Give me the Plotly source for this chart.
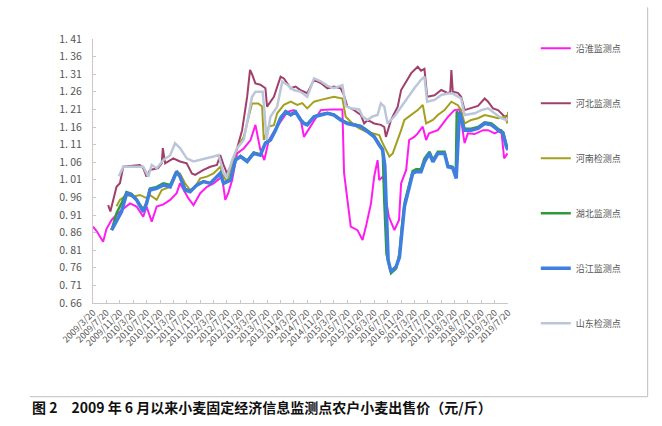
import plotly.graph_objects as go

# ---------------- data ----------------
yanhuai_dates = ["2009-03-20","2009-04-20","2009-06-20","2009-07-20","2009-09-05","2009-11-20","2010-02-20","2010-04-20",
    "2010-06-20","2010-07-20","2010-09-05","2010-10-20","2010-12-20","2011-02-20","2011-04-20","2011-05-20","2011-08-05",
    "2011-09-20","2011-11-20","2012-01-20","2012-03-20","2012-06-05","2012-07-05","2012-08-01","2012-09-05","2012-10-20",
    "2012-12-20","2013-02-20","2013-04-05","2013-05-20","2013-06-25","2013-08-05","2013-10-20","2014-01-20","2014-03-20",
    "2014-05-20","2014-06-20","2014-08-20","2014-11-20","2015-02-20","2015-06-05","2015-06-20","2015-08-20","2015-10-20",
    "2015-12-05","2016-01-05","2016-02-20","2016-03-20","2016-04-20","2016-05-05","2016-06-10","2016-07-05","2016-08-01",
    "2016-09-20","2016-11-01","2016-11-20","2017-01-05","2017-02-01","2017-03-20","2017-04-20","2017-06-05","2017-07-05",
    "2017-08-01","2017-10-20","2018-01-20","2018-03-20","2018-05-05","2018-06-20","2018-07-20","2018-09-20","2018-12-05",
    "2019-01-20","2019-03-20","2019-05-20","2019-06-15","2019-07-15"]
yanhuai = [0.877,0.865,0.834,0.870,0.896,0.920,0.943,0.934,
    0.905,0.934,0.891,0.934,0.940,0.953,0.972,1.000,0.957,
    0.938,0.972,0.990,1.000,1.019,0.953,0.972,1.009,1.085,
    1.099,1.123,1.166,1.095,1.066,1.123,1.161,1.203,1.208,
    1.185,1.132,1.161,1.208,1.210,1.210,1.030,0.877,0.867,
    0.839,0.877,0.943,1.019,1.066,1.009,1.020,0.953,0.905,
    0.867,0.896,1.000,1.038,1.123,1.132,1.142,1.161,1.123,
    1.142,1.151,1.189,1.208,1.210,1.114,1.142,1.140,1.151,
    1.151,1.142,1.151,1.071,1.085]

hebei_dates = ["2009-08-05","2009-08-25","2009-10-20","2009-11-20","2009-12-20","2010-03-01","2010-05-20","2010-06-20",
    "2010-07-20","2010-08-20","2010-11-01","2010-12-05","2010-12-15","2011-01-05","2011-03-20","2011-05-20","2011-07-20",
    "2011-09-05","2011-10-05","2011-12-20","2012-02-20","2012-04-20","2012-05-20","2012-06-20","2012-07-20","2012-09-05",
    "2012-10-20","2012-12-05","2013-01-20","2013-02-15","2013-03-05","2013-04-05","2013-05-20","2013-07-05","2013-07-20",
    "2013-09-20","2013-11-20","2013-12-20","2014-02-20","2014-04-05","2014-05-20","2014-07-20","2014-09-20","2014-11-20",
    "2015-01-20","2015-03-20","2015-05-20","2015-06-20","2015-07-20","2015-09-20","2015-11-20","2015-12-20","2016-01-20",
    "2016-03-20","2016-05-20","2016-06-20","2016-07-05","2016-08-20","2016-10-20","2016-11-20","2017-01-05","2017-02-20",
    "2017-04-20","2017-05-20","2017-06-20","2017-07-15","2017-09-20","2017-11-20","2018-01-20","2018-02-10","2018-02-20",
    "2018-03-05","2018-04-20","2018-05-20","2018-06-20","2018-08-20","2018-10-20","2018-12-20","2019-01-20","2019-03-05",
    "2019-04-20","2019-06-20","2019-07-20"]
hebei = [0.938,0.920,0.990,1.000,1.047,1.050,1.052,1.043,
    1.019,1.038,1.043,1.057,1.100,1.057,1.071,1.062,1.057,
    1.028,1.024,1.038,1.047,1.052,1.080,1.052,1.028,1.057,
    1.099,1.151,1.246,1.322,1.310,1.284,1.280,1.270,1.218,
    1.246,1.303,1.298,1.270,1.275,1.265,1.256,1.294,1.285,
    1.270,1.275,1.270,1.250,1.218,1.208,1.194,1.170,1.180,
    1.170,1.166,1.160,1.132,1.180,1.218,1.265,1.289,1.313,
    1.331,1.320,1.325,1.246,1.250,1.265,1.256,1.260,1.322,
    1.260,1.257,1.246,1.208,1.213,1.220,1.241,1.232,1.213,
    1.208,1.189,1.194]

henan_dates = ["2009-10-20","2009-11-20","2010-01-20","2010-03-20","2010-05-20","2010-07-20","2010-08-20","2010-10-20",
    "2010-12-05","2011-02-20","2011-04-05","2011-05-20","2011-07-05","2011-08-20","2011-10-05","2011-11-20","2012-01-20",
    "2012-03-20","2012-05-20","2012-06-20","2012-07-20","2012-09-05","2012-10-20","2012-12-20","2013-02-05","2013-03-05",
    "2013-05-01","2013-06-05","2013-06-20","2013-08-05","2013-09-20","2013-10-20","2013-12-20","2014-02-20","2014-04-20",
    "2014-06-05","2014-07-20","2014-09-20","2014-11-20","2015-01-20","2015-03-20","2015-06-05","2015-07-05","2015-09-05",
    "2015-11-05","2016-01-05","2016-03-05","2016-05-05","2016-06-05","2016-07-05","2016-08-05","2016-09-05","2016-10-05",
    "2016-11-20","2016-12-20","2017-02-20","2017-04-20","2017-06-05","2017-07-05","2017-09-05","2017-10-20","2017-12-20",
    "2018-02-20","2018-04-20","2018-05-20","2018-06-20","2018-08-20","2018-10-20","2018-12-20","2019-02-20","2019-04-20",
    "2019-06-20","2019-07-15","2019-07-20"]
henan = [0.935,0.953,0.967,0.962,0.967,0.958,0.967,0.953,
    0.981,0.990,1.028,1.028,1.000,0.981,0.990,1.014,1.019,
    1.028,1.047,1.019,1.005,1.057,1.099,1.132,1.189,1.227,
    1.227,1.218,1.123,1.161,1.165,1.199,1.223,1.232,1.223,
    1.228,1.213,1.232,1.237,1.241,1.246,1.241,1.189,1.170,
    1.156,1.147,1.142,1.137,1.114,1.095,1.076,1.085,1.109,
    1.151,1.180,1.194,1.208,1.223,1.170,1.180,1.194,1.208,
    1.232,1.222,1.208,1.170,1.180,1.185,1.194,1.190,1.185,
    1.189,1.170,1.203]

hubei_dates = ["2009-09-05","2009-10-20","2009-12-05","2010-01-20","2010-03-05","2010-04-20","2010-06-20","2010-07-20",
    "2010-08-20","2010-10-20","2010-12-20","2011-02-20","2011-04-20","2011-05-20","2011-07-05","2011-08-20","2011-10-20",
    "2011-12-20","2012-02-20","2012-04-20","2012-05-20","2012-06-20","2012-08-20","2012-10-05","2012-11-20","2013-01-20",
    "2013-03-20","2013-05-20","2013-07-05","2013-08-20","2013-10-05","2013-11-20","2014-01-05","2014-02-20","2014-04-05",
    "2014-05-20","2014-06-20","2014-07-20","2014-09-20","2014-11-20","2015-01-20","2015-03-20","2015-05-20","2015-07-20",
    "2015-09-20","2015-11-20","2016-01-20","2016-03-20","2016-05-05","2016-06-05","2016-06-20","2016-07-10","2016-08-20",
    "2016-10-05","2016-11-05","2016-11-25","2016-12-25","2017-01-25","2017-03-05","2017-04-05","2017-05-20","2017-06-20",
    "2017-08-05","2017-09-05","2017-10-20","2017-12-20","2018-01-20","2018-03-05","2018-04-01","2018-04-10","2018-06-20",
    "2018-08-20","2018-10-20","2018-12-20","2019-02-20","2019-04-20","2019-06-05","2019-07-05","2019-07-20"]
hubei = [0.867,0.915,0.944,0.975,0.970,0.955,0.925,0.945,
    0.985,0.990,1.000,0.995,1.035,1.020,0.985,0.978,0.995,
    1.005,1.000,1.020,1.030,1.000,1.010,1.066,1.078,1.065,
    1.088,1.082,1.116,1.125,1.153,1.187,1.205,1.196,1.205,
    1.182,1.172,1.168,1.190,1.196,1.200,1.196,1.182,1.172,
    1.168,1.163,1.150,1.135,1.112,1.098,0.950,0.800,0.745,
    0.758,0.800,0.870,0.950,0.985,1.035,1.040,1.040,1.070,
    1.090,1.066,1.090,1.090,1.050,1.047,1.020,1.205,1.155,
    1.155,1.160,1.173,1.170,1.155,1.146,1.110,1.100]

yanjiang_dates = ["2009-09-05","2009-10-20","2009-12-05","2010-01-20","2010-03-05","2010-04-20","2010-06-20","2010-07-20",
    "2010-08-20","2010-10-20","2010-12-20","2011-02-20","2011-04-20","2011-05-20","2011-07-05","2011-08-20","2011-10-20",
    "2011-12-20","2012-02-20","2012-04-20","2012-05-20","2012-06-20","2012-08-20","2012-10-05","2012-11-20","2013-01-20",
    "2013-03-20","2013-05-20","2013-07-05","2013-08-20","2013-10-05","2013-11-20","2014-01-05","2014-02-20","2014-04-05",
    "2014-05-20","2014-06-20","2014-07-20","2014-09-20","2014-11-20","2015-01-20","2015-03-20","2015-05-20","2015-07-20",
    "2015-09-20","2015-11-20","2016-01-20","2016-03-20","2016-05-05","2016-06-05","2016-06-25","2016-07-15","2016-07-25",
    "2016-08-20","2016-10-05","2016-11-05","2016-11-20","2016-12-20","2017-01-20","2017-03-05","2017-04-05","2017-05-20",
    "2017-06-20","2017-08-05","2017-09-05","2017-10-20","2017-12-20","2018-01-20","2018-03-05","2018-04-05","2018-05-05",
    "2018-06-20","2018-08-20","2018-10-20","2018-12-20","2019-02-20","2019-04-20","2019-06-05","2019-07-05","2019-07-20"]
yanjiang = [0.867,0.896,0.920,0.972,0.967,0.953,0.919,0.943,
    0.981,0.986,0.995,0.990,1.033,1.019,0.981,0.976,0.995,
    1.005,1.000,1.019,1.028,1.000,1.009,1.066,1.076,1.062,
    1.085,1.080,1.114,1.123,1.151,1.185,1.203,1.194,1.203,
    1.180,1.170,1.166,1.189,1.194,1.199,1.194,1.180,1.170,
    1.166,1.161,1.147,1.132,1.109,1.095,1.050,0.905,0.782,
    0.749,0.763,0.790,0.848,0.934,0.972,1.028,1.033,1.033,
    1.061,1.085,1.061,1.085,1.085,1.047,1.043,1.014,1.203,
    1.151,1.151,1.156,1.170,1.166,1.151,1.142,1.104,1.095]

shandong_dates = ["2009-11-10","2009-12-20","2010-04-05","2010-06-20","2010-08-05","2010-09-05","2010-10-20","2010-12-20",
    "2011-02-20","2011-04-05","2011-05-20","2011-07-20","2011-09-20","2011-11-20","2012-01-20","2012-03-20","2012-05-05",
    "2012-06-20","2012-07-20","2012-09-05","2012-10-20","2012-12-20","2013-02-05","2013-03-05","2013-04-05","2013-06-10",
    "2013-06-25","2013-07-15","2013-08-20","2013-10-20","2013-12-05","2014-01-20","2014-03-20","2014-05-20","2014-07-20",
    "2014-09-20","2014-11-20","2015-01-20","2015-03-20","2015-06-05","2015-07-05","2015-08-20","2015-11-05","2015-12-05",
    "2016-01-20","2016-03-05","2016-04-20","2016-05-20","2016-06-20","2016-07-20","2016-09-20","2016-11-20","2017-01-20",
    "2017-03-20","2017-05-20","2017-06-20","2017-07-15","2017-09-20","2017-11-20","2018-01-20","2018-03-05","2018-04-20",
    "2018-05-20","2018-06-20","2018-09-20","2018-11-20","2019-01-20","2019-03-20","2019-05-20","2019-07-05","2019-07-20"]
shandong = [1.020,1.047,1.047,1.047,1.019,1.052,1.043,1.066,
    1.080,1.114,1.100,1.071,1.062,1.066,1.071,1.076,1.080,
    1.028,1.019,1.066,1.100,1.123,1.199,1.246,1.260,1.260,
    1.210,1.123,1.189,1.218,1.289,1.280,1.265,1.260,1.246,
    1.298,1.290,1.277,1.270,1.279,1.220,1.213,1.210,1.190,
    1.180,1.190,1.194,1.227,1.218,1.170,1.190,1.218,1.246,
    1.270,1.294,1.303,1.232,1.237,1.251,1.255,1.255,1.246,
    1.241,1.194,1.199,1.208,1.213,1.199,1.185,1.180,1.185]

series_names = ["沿淮监测点", "河北监测点", "河南检测点", "湖北监测点", "沿江监测点", "山东检测点"]

tick_dates = ["2009-03-20","2009-07-20","2009-11-20","2010-03-20","2010-07-20","2010-11-20","2011-03-20","2011-07-20",
    "2011-11-20","2012-03-20","2012-07-20","2012-11-20","2013-03-20","2013-07-20","2013-11-20","2014-03-20","2014-07-20",
    "2014-11-20","2015-03-20","2015-07-20","2015-11-20","2016-03-20","2016-07-20","2016-11-20","2017-03-20","2017-07-20",
    "2017-11-20","2018-03-20","2018-07-20","2018-11-20","2019-03-20","2019-07-20"]
tick_labels = ["2009/3/20","2009/7/20","2009/11/20","2010/3/20","2010/7/20","2010/11/20","2011/3/20","2011/7/20",
    "2011/11/20","2012/3/20","2012/7/20","2012/11/20","2013/3/20","2013/7/20","2013/11/20","2014/3/20","2014/7/20",
    "2014/11/20","2015/3/20","2015/7/20","2015/11/20","2016/3/20","2016/7/20","2016/11/20","2017/3/20","2017/7/20",
    "2017/11/20","2018/3/20","2018/7/20","2018/11/20","2019/3/20","2019/7/20"]
y_ticks = [0.66, 0.71, 0.76, 0.81, 0.86, 0.91, 0.96, 1.01, 1.06, 1.11, 1.16, 1.21, 1.26, 1.31, 1.36, 1.41]
y_tick_labels = ["0. 66", "0. 71", "0. 76", "0. 81", "0. 86", "0. 91", "0. 96", "1. 01", "1. 06", "1. 11",
                 "1. 16", "1. 21", "1. 26", "1. 31", "1. 36", "1. 41"]

caption = "图 2　2009 年 6 月以来小麦固定经济信息监测点农户小麦出售价（元/斤）"

# ---------------- figure ----------------
FONT = "Noto Sans CJK SC"
styles = [("#ff1cf0", 2.0), ("#a0406a", 2.0), ("#a3a01e", 2.0),
          ("#2f9a3a", 2.5), ("#3f7fe0", 3.5), ("#bcc6da", 2.5)]
data = [(yanhuai_dates, yanhuai), (hebei_dates, hebei), (henan_dates, henan),
        (hubei_dates, hubei), (yanjiang_dates, yanjiang), (shandong_dates, shandong)]

fig = go.Figure()
for i, ((xs, ys), name, (col, w)) in enumerate(zip(data, series_names, styles)):
    fig.add_trace(go.Scatter(x=xs, y=ys, mode="lines", name=name,
                             legendgroup="g%d" % i,
                             line=dict(color=col, width=w)))

fig.update_layout(
    width=662, height=426,
    margin=dict(l=93, r=154, t=39, b=123),
    paper_bgcolor="white", plot_bgcolor="white",
    font=dict(family=FONT, size=9, color="#555555"),
    showlegend=True,
    legend=dict(x=1.067, y=1.02, xanchor="left", yanchor="top",
                tracegroupgap=36, font=dict(size=9, color="#555555"),
                itemwidth=30, bgcolor="rgba(0,0,0,0)", maxheight=400),
    xaxis=dict(type="date", range=["2009-03-20", "2019-07-20"],
               tickvals=tick_dates, ticktext=tick_labels, tickangle=-45,
               tickfont=dict(size=9, color="#555555"),
               showgrid=False, zeroline=False, showline=True,
               linecolor="#c8c8c8", linewidth=1,
               ticks="inside", ticklen=3, tickcolor="#c8c8c8"),
    yaxis=dict(range=[0.66, 1.41], tickvals=y_ticks, ticktext=y_tick_labels,
               tickfont=dict(size=10.5, color="#555555"),
               showgrid=False, zeroline=False, showline=True,
               linecolor="#c8c8c8", linewidth=1,
               ticks="inside", ticklen=3, tickcolor="#c8c8c8",
               ticklabelstandoff=8),
)

# frame lines and caption
fig.add_shape(type="line", xref="paper", yref="paper", x0=1.3366, x1=1.3366, y0=-0.355, y1=1.12,
              line=dict(color="#bdbdbd", width=1))
fig.add_shape(type="line", xref="paper", yref="paper", x0=-0.152, x1=1.3366, y0=-0.355, y1=-0.355,
              line=dict(color="#bdbdbd", width=1))
fig.add_annotation(text="<b>" + caption + "</b>", xref="paper", yref="paper",
                   x=-0.152, y=-0.395, xanchor="left", yanchor="middle", showarrow=False,
                   font=dict(family=FONT, size=14, color="#111111"))

fig.write_html("out.html", config={"displayModeBar": False},
               post_script="document.body.style.margin='0';")
